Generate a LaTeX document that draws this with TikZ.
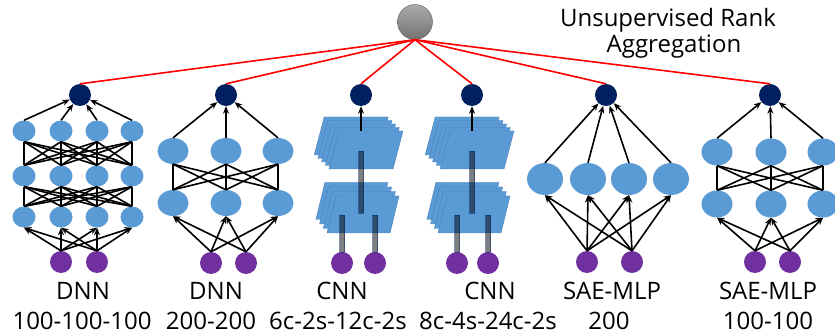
\documentclass[tikz,border=0pt]{standalone}
\usepackage{fontspec}
\setmainfont{Open Sans}
\usetikzlibrary{arrows.meta,shapes.geometric}
\definecolor{unitblue}{HTML}{5B9BD5}
\definecolor{outnavy}{HTML}{002060}
\definecolor{inpurple}{HTML}{7030A0}
\definecolor{sheetedge}{HTML}{4A7EBB}
\tikzset{
  unit/.style={ellipse, fill=unitblue, inner sep=0pt},
  outunit/.style={circle, fill=outnavy, minimum size=22pt, inner sep=0pt},
  inunit/.style={circle, fill=inpurple, minimum size=22pt, inner sep=0pt},
  vote/.style={red, line width=1.6pt},
  link/.style={line width=1.6pt},
  feed/.style={link, ->},
  sheet/.style={fill=unitblue, draw=sheetedge, line width=0.4pt},
  bar/.style={fill=black, fill opacity=0.5, draw=outnavy, draw opacity=0.5, line width=0.4pt},
  lab/.style={font=\fontsize{24}{30}\selectfont, anchor=base, inner sep=0pt}
}
\begin{document}
\begin{tikzpicture}[x=1pt, y=-1pt, >={Stealth[length=7.5pt,width=6pt]}]
  \useasboundingbox (0,0) rectangle (835,336);
  % aggregation on top
  \node[circle, minimum size=35pt, inner sep=0pt, draw=black!65, top color=black!33, bottom color=black!55] (root) at (415,22) {};
  \node[lab] (title1) at (668,27) {Unsupervised Rank};
  \node[lab] (title2) at (674,53) {Aggregation};

  % DNN 100-100-100
  \foreach \c/\x in {1/24,2/61,3/97,4/132}
    \foreach \r/\y in {1/217,2/176,3/131}
      \node[unit, minimum width=23pt, minimum height=21pt] (a\r\c) at (\x,\y) {};
  \node[outunit] (a-out) at (80,95) {};
  \node[inunit] (a-in1) at (61,262) {};
  \node[inunit] (a-in2) at (97,262) {};
  \foreach \i in {1,2} \foreach \c in {1,...,4} \draw[feed] (a-in\i.north) -- (a1\c.south);
  \foreach \c in {1,...,4} \foreach \d in {1,...,4} {
    \draw[link] (a1\c.north) -- (a2\d.south);
    \draw[link] (a2\c.north) -- (a3\d.south);
  }
  \foreach \c in {1,...,4} \draw[feed] (a3\c.north) -- (a-out);

  % DNN 200-200
  \foreach \c/\x in {1/173,2/226,3/278}
    \foreach \r/\y in {1/203,2/151}
      \node[unit, minimum width=31pt, minimum height=26pt] (b\r\c) at (\x,\y) {};
  \node[outunit] (b-out) at (226,95) {};
  \node[inunit] (b-in1) at (211,263) {};
  \node[inunit] (b-in2) at (246,263) {};
  \foreach \i in {1,2} \foreach \c in {1,2,3} \draw[feed] (b-in\i.north) -- (b1\c.south);
  \foreach \c in {1,2,3} \foreach \d in {1,2,3} \draw[link] (b1\c.north) -- (b2\d.south);
  \foreach \c in {1,2,3} \draw[feed] (b2\c.north) -- (b-out);

  % two CNNs
  \foreach \n/\dx/\ia/\ib in {c/0/342/375, d/111/457/488} {
    \foreach \k in {4,...,0}
      \draw[sheet] ({329+\dx-3.7*\k},{169-3.5*\k}) -- ++(64,0) -- ++(10,-38) -- ++(-64,0) -- cycle;
    \foreach \k in {3,...,0}
      \draw[sheet] ({327+\dx-3.7*\k},{233-4.5*\k}) -- ++(63,0) -- ++(9,-37) -- ++(-63,0) -- cycle;
    \node[outunit] (\n-out) at (361+\dx,95) {};
    \node[inunit] (\n-in1) at (\ia,263) {};
    \node[inunit] (\n-in2) at (\ib,263) {};
    \coordinate (\n-top) at (361+\dx,131);
    \draw[bar] ({358.5+\dx},151) rectangle ({363.5+\dx},213);
    \draw[bar] (\ia-2.5,215) rectangle (\ia+2.5,252);
    \draw[bar] (\ib-2.5,215) rectangle (\ib+2.5,252);
    \draw[feed] (\n-top) -- (\n-out);
  }

  % SAE-MLP 200
  \foreach \c/\x in {1/545,2/588,3/629,4/671}
    \node[unit, minimum width=36pt, minimum height=32pt] (e\c) at (\x,179) {};
  \node[outunit] (e-out) at (606,95) {};
  \node[inunit] (e-in1) at (587,262) {};
  \node[inunit] (e-in2) at (632,262) {};
  \foreach \i in {1,2} \foreach \c in {1,...,4} \draw[feed] (e-in\i.north) -- (e\c.south);
  \foreach \c in {1,...,4} \draw[feed] (e\c.north) -- (e-out);

  % SAE-MLP 100-100
  \foreach \c/\x in {1/717,2/771,3/823}
    \foreach \r/\y in {1/204,2/152}
      \node[unit, minimum width=31pt, minimum height=27pt] (f\r\c) at (\x,\y) {};
  \node[outunit] (f-out) at (770,95) {};
  \node[inunit] (f-in1) at (755,262) {};
  \node[inunit] (f-in2) at (790,262) {};
  \foreach \i in {1,2} \foreach \c in {1,2,3} \draw[feed] (f-in\i.north) -- (f1\c.south);
  \foreach \c in {1,2,3} \foreach \d in {1,2,3} \draw[link] (f1\c.north) -- (f2\d.south);
  \foreach \c in {1,2,3} \draw[feed] (f2\c.north) -- (f-out);

  % votes into the root
  \foreach \n in {a,b,c,d,e,f} \draw[vote] (root.south) -- (\n-out.north);

  % labels
  \node[lab] (name-a) at (83,300) {DNN};
  \node[lab] (spec-a) at (82,330) {100-100-100};
  \node[lab] (name-b) at (216,300) {DNN};
  \node[lab] (spec-b) at (211,330) {200-200};
  \node[lab] (name-c) at (342,300) {CNN};
  \node[lab] (spec-c) at (338,330) {6c-2s-12c-2s};
  \node[lab] (name-d) at (490,300) {CNN};
  \node[lab] (spec-d) at (488,330) {8c-4s-24c-2s};
  \node[lab] (name-e) at (612,300) {SAE-MLP};
  \node[lab] (spec-e) at (609,330) {200};
  \node[lab] (name-f) at (768,300) {SAE-MLP};
  \node[lab] (spec-f) at (768,330) {100-100};
\end{tikzpicture}
\end{document}
